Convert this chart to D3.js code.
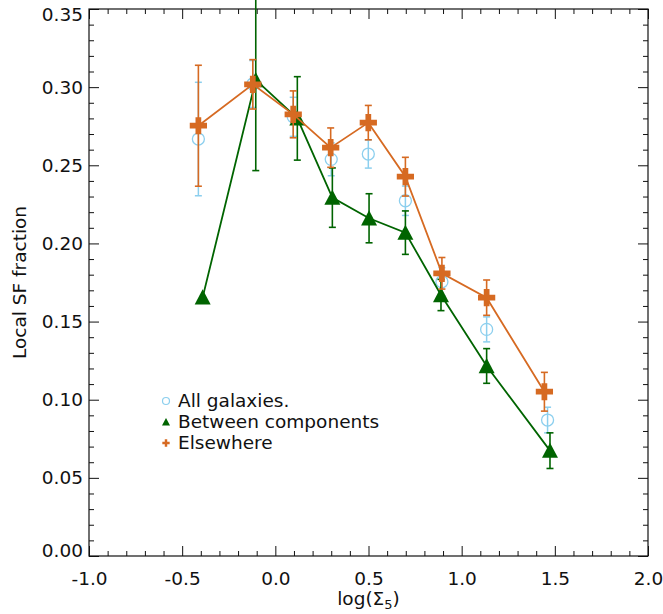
<!DOCTYPE html>
<html>
<head>
<meta charset="utf-8">
<script src="https://cdn.jsdelivr.net/npm/d3@7"></script>
<style>
  html, body { margin: 0; padding: 0; background: #fff; }
  svg text { font-family: "DejaVu Sans", "Liberation Sans", Arial, sans-serif; fill: #111; }
</style>
</head>
<body>
<div id="chart"></div>
<script>
// ---- Data ----
const allX = [-0.413, -0.121, 0.096, 0.300, 0.499, 0.698, 0.894, 1.134, 1.461];
const allY = [0.2668, 0.3020, 0.2810, 0.2538, 0.2572, 0.2273, 0.1755, 0.1450, 0.0870];
const allErr = [0.0363, 0.0150, 0.0125, 0.0105, 0.0090, 0.0094, 0.0090, 0.0080, 0.0082];

const betweenX = [-0.390, -0.105, 0.118, 0.306, 0.503, 0.698, 0.889, 1.134, 1.474];
const betweenY = [0.1655, 0.3046, 0.2800, 0.2293, 0.2161, 0.2069, 0.1670, 0.1216, 0.0674];
const betweenErr = [0, 0.0580, 0.0267, 0.0190, 0.0157, 0.0139, 0.0100, 0.0111, 0.0114];

const elseX = [-0.413, -0.121, 0.096, 0.297, 0.499, 0.698, 0.894, 1.134, 1.444];
const elseY = [0.2753, 0.3018, 0.2826, 0.2613, 0.2773, 0.2427, 0.1809, 0.1653, 0.1051];
const elseErr = [0.0387, 0.0158, 0.0150, 0.0126, 0.0110, 0.0124, 0.0101, 0.0113, 0.0124];

const legendLabels = ["All galaxies.", "Between components", "Elsewhere"];
const xMajorTicks = [-1.0, -0.5, 0.0, 0.5, 1.0, 1.5, 2.0];
const yMajorTicks = [0, 0.05, 0.10, 0.15, 0.20, 0.25, 0.30, 0.35];

const BLUE = "#8ccfee", GREEN = "#006400", ORANGE = "#d66a22";
const FS = 18.5;

// ---- Layout ----
const W = 663, H = 614;
const pLeft = 89, pRight = 648, pTop = 9, pBottom = 556;

const x = d3.scaleLinear().domain([-1, 2]).range([pLeft, pRight]);
const y = d3.scaleLinear().domain([0, 0.35]).range([pBottom, pTop]);

const svg = d3.select("#chart").append("svg")
  .attr("width", W).attr("height", H);
svg.append("rect").attr("width", W).attr("height", H).attr("fill", "#fff");

// minor tick values
const xMinor = d3.range(-10, 21).map(i => i / 10).filter(v => Math.abs(v * 2 - Math.round(v * 2)) > 1e-6);
const yMinor = d3.range(0, 36).map(i => i / 100).filter(v => Math.abs(v * 20 - Math.round(v * 20)) > 1e-6);

function styleAxis(g) {
  g.select(".domain").remove();
  g.selectAll(".tick line").attr("stroke", "#111").attr("stroke-width", 1);
  g.selectAll(".tick text").attr("font-size", FS).attr("fill", "#111");
}

// bottom
svg.append("g").attr("transform", `translate(0,${pBottom})`)
  .call(d3.axisBottom(x).tickValues(xMajorTicks).tickSizeInner(-10).tickSizeOuter(0)
    .tickPadding(16).tickFormat(d => d.toFixed(1)))
  .call(styleAxis);
svg.append("g").attr("transform", `translate(0,${pBottom})`)
  .call(d3.axisBottom(x).tickValues(xMinor).tickSizeInner(-5).tickSizeOuter(0).tickFormat(""))
  .call(styleAxis);
// top
svg.append("g").attr("transform", `translate(0,${pTop})`)
  .call(d3.axisTop(x).tickValues(xMajorTicks).tickSizeInner(-10).tickSizeOuter(0).tickFormat(""))
  .call(styleAxis);
svg.append("g").attr("transform", `translate(0,${pTop})`)
  .call(d3.axisTop(x).tickValues(xMinor).tickSizeInner(-5).tickSizeOuter(0).tickFormat(""))
  .call(styleAxis);
// left
const yAxisG = svg.append("g").attr("transform", `translate(${pLeft},0)`)
  .call(d3.axisLeft(y).tickValues(yMajorTicks).tickSizeInner(-10).tickSizeOuter(0)
    .tickPadding(6).tickFormat(d => d.toFixed(2)))
  .call(styleAxis);
// end labels sit inside the frame height, as in the reference
yAxisG.selectAll(".tick text").attr("dy", d => d === 0.35 ? "0.62em" : d === 0 ? "0.02em" : "0.32em");
svg.append("g").attr("transform", `translate(${pLeft},0)`)
  .call(d3.axisLeft(y).tickValues(yMinor).tickSizeInner(-5).tickSizeOuter(0).tickFormat(""))
  .call(styleAxis);
// right
svg.append("g").attr("transform", `translate(${pRight},0)`)
  .call(d3.axisRight(y).tickValues(yMajorTicks).tickSizeInner(-10).tickSizeOuter(0).tickFormat(""))
  .call(styleAxis);
svg.append("g").attr("transform", `translate(${pRight},0)`)
  .call(d3.axisRight(y).tickValues(yMinor).tickSizeInner(-5).tickSizeOuter(0).tickFormat(""))
  .call(styleAxis);

// frame
svg.append("rect").attr("x", pLeft).attr("y", pTop)
  .attr("width", pRight - pLeft).attr("height", pBottom - pTop)
  .attr("fill", "none").attr("stroke", "#111").attr("stroke-width", 1.2);

// axis titles
const xt = svg.append("text").attr("x", (pLeft + pRight) / 2).attr("y", 605)
  .attr("text-anchor", "middle").attr("font-size", FS);
xt.append("tspan").text("log(Σ");
xt.append("tspan").attr("font-size", 13).attr("dy", 4).text("5");
xt.append("tspan").attr("dy", -4).text(")");

svg.append("text").attr("transform", `translate(26,${(pTop + pBottom) / 2}) rotate(-90)`)
  .attr("text-anchor", "middle").attr("font-size", FS).text("Local SF fraction");

// ---- Series ----
const zip = (xs, ys, es) => xs.map((v, i) => ({ x: v, y: ys[i], e: es[i] }));
const allData = zip(allX, allY, allErr);
const betweenData = zip(betweenX, betweenY, betweenErr);
const elseData = zip(elseX, elseY, elseErr);

function errorBars(g, data, color, width) {
  const eb = g.append("g").attr("stroke", color).attr("stroke-width", width);
  data.filter(d => d.e > 0).forEach(d => {
    const cx = x(d.x), y0 = y(d.y - d.e), y1 = y(d.y + d.e);
    eb.append("line").attr("x1", cx).attr("x2", cx).attr("y1", y0).attr("y2", y1);
    eb.append("line").attr("x1", cx - 3.5).attr("x2", cx + 3.5).attr("y1", y0).attr("y2", y0);
    eb.append("line").attr("x1", cx - 3.5).attr("x2", cx + 3.5).attr("y1", y1).attr("y2", y1);
  });
}

const line = d3.line().x(d => x(d.x)).y(d => y(d.y));
const triPath = (s) => `M0,${-s}L${s},${s * 0.9}L${-s},${s * 0.9}Z`;
const crossSym = (size) => d3.symbol().type(d3.symbolCross).size(size)();

// all galaxies (hollow circles)
const gAll = svg.append("g");
errorBars(gAll, allData, BLUE, 1.5);
gAll.selectAll("circle").data(allData).join("circle")
  .attr("cx", d => x(d.x)).attr("cy", d => y(d.y)).attr("r", 6)
  .attr("fill", "none").attr("stroke", BLUE).attr("stroke-width", 1.3);

// between components (triangles)
const gBet = svg.append("g");
gBet.append("path").attr("d", line(betweenData))
  .attr("fill", "none").attr("stroke", GREEN).attr("stroke-width", 1.8);
errorBars(gBet, betweenData, GREEN, 1.6);
gBet.selectAll("path.m").data(betweenData).join("path").attr("class", "m")
  .attr("transform", d => `translate(${x(d.x)},${y(d.y)})`)
  .attr("d", triPath(8)).attr("fill", GREEN);

// elsewhere (thick crosses)
const gEl = svg.append("g");
gEl.append("path").attr("d", line(elseData))
  .attr("fill", "none").attr("stroke", ORANGE).attr("stroke-width", 1.8);
errorBars(gEl, elseData, ORANGE, 1.6);
gEl.selectAll("path.m").data(elseData).join("path").attr("class", "m")
  .attr("transform", d => `translate(${x(d.x)},${y(d.y)})`)
  .attr("d", crossSym(165)).attr("fill", ORANGE);

// ---- Legend ----
const lg = svg.append("g");
const lx = 166, ly0 = 401, ldy = 21;
lg.append("circle").attr("cx", lx).attr("cy", ly0).attr("r", 3.5)
  .attr("fill", "none").attr("stroke", BLUE).attr("stroke-width", 1.2);
lg.append("path").attr("transform", `translate(${lx},${ly0 + ldy})`)
  .attr("d", triPath(4)).attr("fill", GREEN);
lg.append("path").attr("transform", `translate(${lx},${ly0 + 2 * ldy})`)
  .attr("d", crossSym(30)).attr("fill", ORANGE);
legendLabels.forEach((t, i) => {
  lg.append("text").attr("x", 178).attr("y", ly0 + i * ldy + 6)
    .attr("font-size", FS).text(t);
});
</script>
</body>
</html>
